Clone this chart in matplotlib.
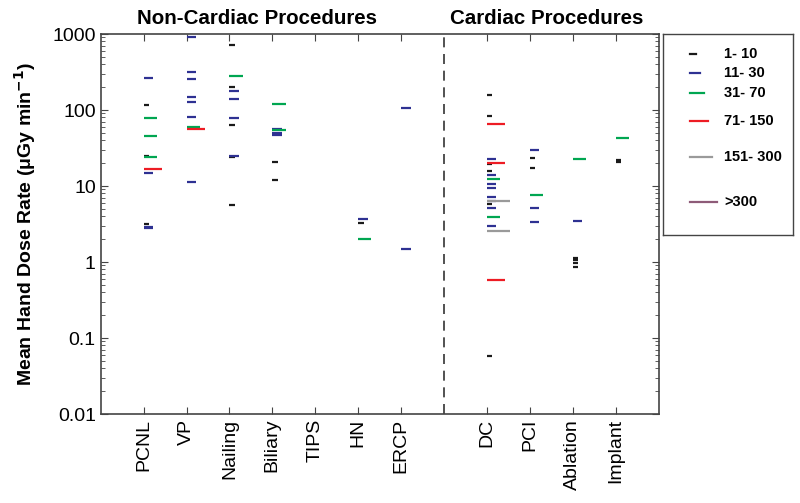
import matplotlib
matplotlib.use("Agg")
import matplotlib.pyplot as plt

plt.rcParams["font.family"] = ["Liberation Sans", "DejaVu Sans"]

# categories (position 8 is the divider between the two groups)
procedures = ["PCNL", "VP", "Nailing", "Biliary", "TIPS", "HN", "ERCP",
              "DC", "PCI", "Ablation", "Implant"]
positions = [1, 2, 3, 4, 5, 6, 7, 9, 10, 11, 12]
divider_x = 8

# mean hand dose rate (uGy/min) per procedure, grouped by number of procedures
rate_1_10 = {
    "PCNL": [115, 25, 3.2],
    "Nailing": [716, 199, 64, 24, 5.6],
    "Biliary": [20.5, 12],
    "HN": [3.26],
    "DC": [157, 84, 19.4, 15.6, 5.8, 0.058],
    "PCI": [23.6, 17.5],
    "Ablation": [1.12, 1.07, 0.96, 0.87],
    "Implant": [22, 21],
}
rate_11_30 = {
    "PCNL": [264, 15, 2.9, 2.8],
    "VP": [913, 313, 258, 148, 128, 82, 11.3],
    "Nailing": [178, 140, 78, 25],
    "Biliary": [57, 50, 47],
    "HN": [3.7],
    "ERCP": [106, 1.48],
    "DC": [22.6, 14.1, 10.7, 9.4, 7.2, 6.4, 5.1, 2.95],
    "PCI": [29.7, 5.1, 3.36],
    "Ablation": [3.46],
}
rate_31_70 = {
    "PCNL": [78, 46, 24],
    "VP": [60],
    "Nailing": [277],
    "Biliary": [120, 55],
    "HN": [2.0],
    "DC": [12.2, 3.9],
    "PCI": [7.6],
    "Ablation": [22.6],
    "Implant": [42.4],
}
rate_71_150 = {
    "PCNL": [16.7],
    "VP": [57],
    "DC": [66, 20.2, 0.574],
}
rate_151_300 = {
    "DC": [6.3, 2.58],
}
rate_over_300 = {}

group_labels = ["1- 10", "11- 30", "31- 70", "71- 150", "151- 300", ">300"]
group_data = [rate_1_10, rate_11_30, rate_31_70, rate_71_150, rate_151_300, rate_over_300]
group_colors = ["#1a1a1a", "#2e3192", "#00a651", "#ed1c24", "#9a9a9a", "#8e5b78"]
# mark length grows with the group (in category units)
group_len = [0.13, 0.22, 0.31, 0.42, 0.54, 0.65]

fig = plt.figure(figsize=(8, 5.03), dpi=100)
ax = fig.add_axes([0.1259, 0.1769, 0.6973, 0.7555])

pos_of = dict(zip(procedures, positions))
for data, col, ln in zip(group_data, group_colors, group_len):
    for proc, vals in data.items():
        x0 = pos_of[proc]
        ax.hlines(vals, x0, x0 + ln, colors=col, linewidth=1.6)

ax.axvline(divider_x, color="#333333", linestyle=(0, (6, 4)), linewidth=1.2)

ax.set_yscale("log")
ax.set_ylim(0.01, 1000)
ax.set_xlim(0, 13)
ax.set_yticks([0.01, 0.1, 1, 10, 100, 1000])
ax.set_yticklabels(["0.01", "0.1", "1", "10", "100", "1000"])
ax.set_xticks(positions)
ax.set_xticklabels(procedures, rotation=90)
ax.tick_params(axis="both", which="both", direction="in", top=True, right=True,
               labelsize=14, color="#444444")
ax.tick_params(axis="x", which="minor", top=False, bottom=False)
ax.tick_params(axis="both", which="major", length=5)
ax.tick_params(axis="y", which="minor", length=3)
for sp in ax.spines.values():
    sp.set_color("#444444")
    sp.set_linewidth(1.2)

ax.set_ylabel("Mean Hand Dose Rate (\u03bcGy min$^{\\mathbf{-1}}$)", fontsize=14,
              fontweight="bold", labelpad=10)

ax.text(3.64, 1.015, "Non-Cardiac Procedures", transform=ax.get_xaxis_transform(),
        ha="center", va="bottom", fontsize=14.8, fontweight="bold")
ax.text(10.4, 1.015, "Cardiac Procedures", transform=ax.get_xaxis_transform(),
        ha="center", va="bottom", fontsize=14.8, fontweight="bold")

# legend box drawn by hand (uneven spacing and growing line lengths)
lax = fig.add_axes([0.829, 0.533, 0.1625, 0.3996])
lax.set_xlim(0, 130)
lax.set_ylim(201, 0)
lax.set_xticks([])
lax.set_yticks([])
for sp in lax.spines.values():
    sp.set_color("#444444")
    sp.set_linewidth(1.0)
leg_y = [20, 38.7, 59.3, 86.7, 123.3, 167.7]
leg_len = [6, 10, 14, 18, 22, 27]
for yy, ll, col, lab in zip(leg_y, leg_len, group_colors, group_labels):
    lax.plot([27, 27 + ll], [yy, yy], color=col, linewidth=1.6)
    lax.text(61, yy, lab, va="center", ha="left", fontsize=10.5, fontweight="bold")

fig.savefig("out.png", dpi=100)
